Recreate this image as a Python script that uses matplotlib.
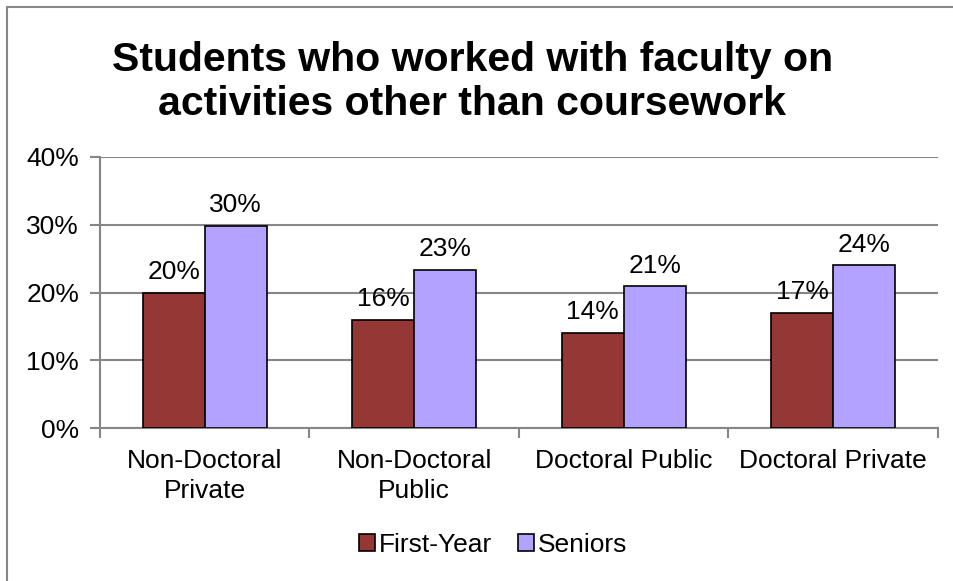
import numpy as np
import matplotlib
matplotlib.use("Agg")
from matplotlib import pyplot as plt
from matplotlib.patches import Rectangle

categories = ["Non-Doctoral\nPrivate", "Non-Doctoral\nPublic", "Doctoral Public", "Doctoral Private"]
first_year = [19.9, 15.9, 14.0, 17.0]
seniors = [29.8, 23.3, 20.9, 24.0]
first_year_labels = ["20%", "16%", "14%", "17%"]
seniors_labels = ["30%", "23%", "21%", "24%"]
yticks = [0, 10, 20, 30, 40]

plt.rcParams['font.family'] = ['Liberation Sans', 'DejaVu Sans']
grey = "#868686"
fs = 19

fig = plt.figure(figsize=(9.54, 5.81), dpi=100)
# outer chart border
fig.patches.append(Rectangle((7/954, -0.1), 1.2, 1 - 7/581 + 0.1, transform=fig.transFigure,
                             fill=False, edgecolor=grey, linewidth=1.5))

ax = fig.add_axes([100/954, 1 - 428/581, 838/954, 271/581])
x = np.arange(len(categories))
w = 0.296
ax.bar(x - w/2, first_year, w, color="#953735", edgecolor="black", linewidth=1.2,
       label="First-Year", zorder=3)
ax.bar(x + w/2, seniors, w, color="#B3A2FF", edgecolor="black", linewidth=1.2,
       label="Seniors", zorder=3)

for i in range(len(categories)):
    ax.text(x[i] - w/2, first_year[i] + 1.3, first_year_labels[i], ha="center", va="bottom", fontsize=fs)
    ax.text(x[i] + w/2, seniors[i] + 1.3, seniors_labels[i], ha="center", va="bottom", fontsize=fs)

ax.set_xlim(-0.5, 3.5)
ax.set_ylim(0, 40)
ax.set_yticks(yticks)
ax.set_yticklabels([f"{t}%" for t in yticks], fontsize=fs)
ax.set_xticks(x)
ax.set_xticklabels(categories, fontsize=fs, linespacing=1.32)
ax.tick_params(axis="x", length=0, pad=15)
ax.tick_params(axis="y", length=7, color=grey, width=1.5, pad=8)
# tick marks between categories
ax.set_xticks(np.arange(-0.5, 4, 1), minor=True)
ax.tick_params(axis="x", which="minor", length=7, color=grey, width=1.5, direction="out")

ax.grid(axis="y", color=grey, linewidth=1.5, zorder=0)
for s in ["top", "right"]:
    ax.spines[s].set_visible(False)
for s in ["left", "bottom"]:
    ax.spines[s].set_color(grey)
    ax.spines[s].set_linewidth(1.5)

fig.suptitle("Students who worked with faculty on\nactivities other than coursework",
             x=0.495, y=0.93, fontsize=29.5, fontweight="bold", linespacing=1.22)

fig.legend(loc="center", bbox_to_anchor=(0.517, 1 - 545/581), ncol=2, frameon=False,
           fontsize=fs, handlelength=0.6, handleheight=0.6, handletextpad=0.15,
           columnspacing=1.0)

plt.savefig("out.png", dpi=100)
